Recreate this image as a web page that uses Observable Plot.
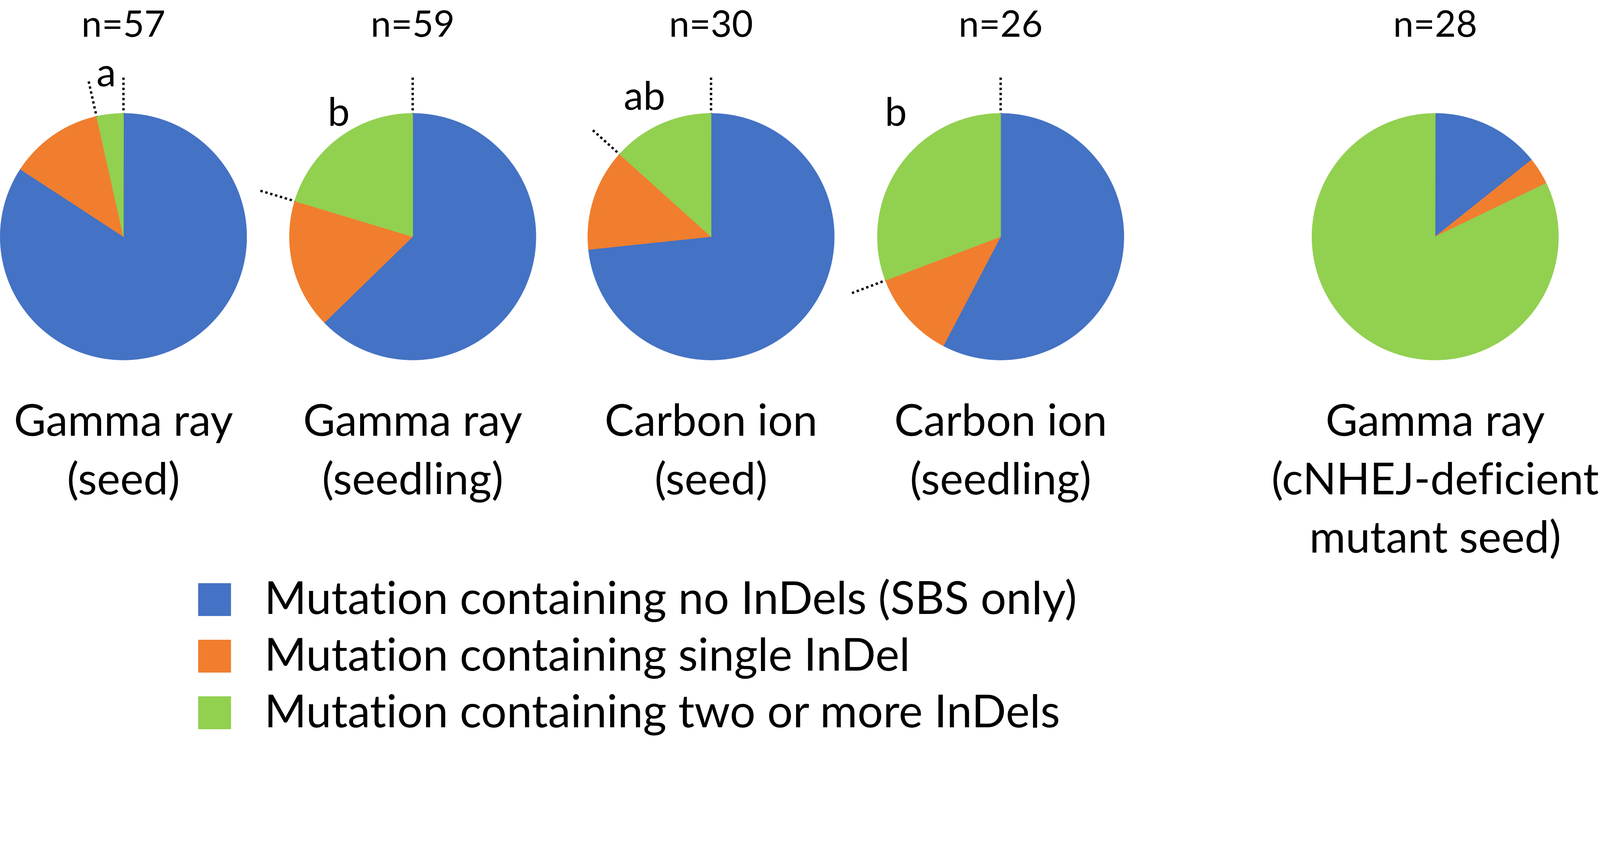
<!DOCTYPE html>
<html>
<head>
<meta charset="utf-8">
<script src="https://cdn.jsdelivr.net/npm/d3@7"></script>
<script src="https://cdn.jsdelivr.net/npm/@observablehq/plot@0.6"></script>
<style>
  html, body { margin: 0; padding: 0; background: #fff; overflow: hidden; }
  #chart { width: 100%; font-family: Lato, "Open Sans", sans-serif; color: #000; font-variant-ligatures: none; }
  #chart svg { display: block; width: 100% !important; max-width: 100% !important; height: auto !important; }
  #chart text { font-variant-ligatures: none; font-feature-settings: "liga" 0, "clig" 0; }
</style>
</head>
<body>
<div id="chart"></div>
<script>
// ---------- data ----------
const groups = [
  "Gamma ray\n(seed)",
  "Gamma ray\n(seedling)",
  "Carbon ion\n(seed)",
  "Carbon ion\n(seedling)",
  "Gamma ray\n(cNHEJ-deficient\nmutant seed)"
];
const nTotal      = [57, 59, 30, 26, 28];
const noIndel     = [48, 37, 22, 15, 4];
const singleIndel = [7, 10, 4, 3, 1];
const multiIndel  = [2, 12, 4, 8, 23];
const letters     = ["a", "b", "ab", "b", ""];
const categories  = [
  "Mutation containing no InDels (SBS only)",
  "Mutation containing single InDel",
  "Mutation containing two or more InDels"
];
const colors = ["#4472C4", "#F07E2E", "#92D050"];

// ---------- layout (radius units) ----------
const W = 4724, H = 1670, TOTAL_H = 2175;
const R = 364;              // pixels per pie radius
const originX = 364, originY = 698;
const pieX = [0, 2.346, 4.766, 7.115, 10.64];
const letterPos = [[-0.14, 1.22], [-0.60, 0.90], [-0.54, 1.03], [-0.85, 0.90], [0, 0]];
const nFont = 108, labelFont = 130, letterFont = 116, legendFont = 134;
const labelLine = 172;
const nBaseline = 108, labelBaseline = 1286;
const legendRows = [1768, 2103];   // first / last row centre (page px)

// ---------- derived geometry ----------
const counts = groups.map((g, i) => [noIndel[i], singleIndel[i], multiIndel[i]]);
const slicePts = [];
counts.forEach((c, i) => {
  const total = nTotal[i];
  let acc = 0;
  c.forEach((v, k) => {
    if (v <= 0) { return; }
    const a0 = acc / total * 2 * Math.PI;
    acc += v;
    const a1 = acc / total * 2 * Math.PI;
    const key = i + "-" + k;
    slicePts.push({key, cat: categories[k], x: pieX[i], y: 0});
    const steps = Math.max(2, Math.ceil((a1 - a0) / (Math.PI / 360)));
    for (let s = 0; s <= steps; s++) {
      const a = a0 + (a1 - a0) * s / steps;
      slicePts.push({key, cat: categories[k], x: pieX[i] + Math.sin(a), y: Math.cos(a)});
    }
  });
});

const dotted = [];
groups.forEach((g, i) => {
  if (!letters[i]) return;
  const aGreen = 2 * Math.PI * (1 - multiIndel[i] / nTotal[i]);
  [0, aGreen].forEach(a => {
    dotted.push({
      x1: pieX[i] + 1.29 * Math.sin(a), y1: 1.29 * Math.cos(a),
      x2: pieX[i] + 1.0 * Math.sin(a),  y2: 1.0 * Math.cos(a)
    });
  });
});

const pies = groups.map((g, i) => ({
  x: pieX[i], label: g, n: "n=" + nTotal[i], letter: letters[i],
  lx: pieX[i] + letterPos[i][0], ly: letterPos[i][1]
}));

const nY = (originY - nBaseline) / R;
// Plot offsets the first line of a multi-line "top"-anchored text by 0.71 × lineHeight
const labelTopY = (originY - (labelBaseline - 0.71 * labelLine)) / R;

const baseStyle = {fontFamily: "Lato, 'Open Sans', sans-serif", color: "#000", background: "#fff"};

const main = Plot.plot({
  width: W, height: H,
  margin: 0,
  x: {domain: [-originX / R, (W - originX) / R], axis: null},
  y: {domain: [-(H - originY) / R, originY / R], axis: null},
  color: {domain: categories, range: colors},
  style: baseStyle,
  marks: [
    Plot.line(slicePts, {x: "x", y: "y", z: "key", fill: "cat", stroke: "cat", strokeWidth: 1, curve: "linear-closed"}),
    Plot.link(dotted, {x1: "x1", y1: "y1", x2: "x2", y2: "y2", stroke: "#000", strokeWidth: 7, strokeDasharray: "7,8", strokeLinecap: "butt"}),
    Plot.text(pies, {x: "x", y: () => nY, text: "n", fontSize: nFont, textAnchor: "middle", lineAnchor: "bottom", fill: "#000"}),
    Plot.text(pies.filter(d => d.letter), {x: "lx", y: "ly", text: "letter", fontSize: letterFont, textAnchor: "middle", lineAnchor: "bottom", fill: "#000"}),
    Plot.text(pies, {x: "x", y: () => labelTopY, text: "label", fontSize: labelFont, lineHeight: labelLine / labelFont, textAnchor: "middle", lineAnchor: "top", fill: "#000"})
  ]
});

const legend = Plot.plot({
  width: W, height: TOTAL_H - H,
  margin: 0,
  x: {axis: null},
  y: {type: "point", domain: categories, range: [legendRows[0] - H, legendRows[1] - H], padding: 0, axis: null},
  color: {domain: categories, range: colors},
  style: baseStyle,
  marks: [
    Plot.dot(categories, {y: d => d, fill: d => d, symbol: "square", r: 97 / Math.sqrt(Math.PI), frameAnchor: "left", dx: 633, stroke: null}),
    Plot.text(categories, {y: d => d, text: d => d, frameAnchor: "left", dx: 780, textAnchor: "start", fontSize: legendFont, fill: "#000"})
  ]
});

const root = document.getElementById("chart");
root.appendChild(main);
root.appendChild(legend);
</script>
</body>
</html>
